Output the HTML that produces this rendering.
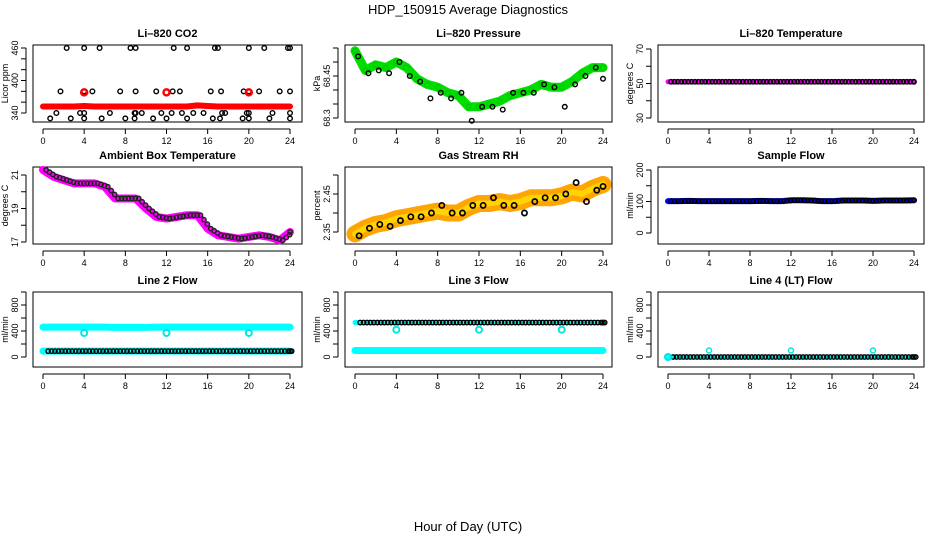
<!DOCTYPE html>
<html><head><meta charset="utf-8"><style>
html,body{margin:0;padding:0;background:#fff;}
svg{display:block;font-family:"Liberation Sans",sans-serif;}
</style></head><body>
<svg id="chart" width="936" height="540" viewBox="0 0 936 540">
<text x="468" y="14" text-anchor="middle" font-size="13">HDP_150915  Average Diagnostics</text>
<text x="468" y="531" text-anchor="middle" font-size="13">Hour of Day (UTC)</text>
</svg>
<script>
const hours = [0,1,2,3,4,5,6,7,8,9,10,11,12,13,14,15,16,17,18,19,20,21,22,23,24];
const xTicks = [0,4,8,12,16,20,24];
const co2Red = [352,352,352,352,353,352,352,352,352,352,352,352,352,352,352,354,353,352,352,352,352,352,352,352,352];
const co2Hi = [2.3,4,5.5,8.5,9,12.7,14,16.7,17,20,21.5,23.8,24];
const co2Mid = [1.7,4,4.8,7.5,9,11,12.6,13.3,16.3,17.3,19.5,20,21,23,24];
const co2Lo = [1.3,3.6,4,6.5,8.9,9,9.6,11.5,12.5,13.5,14.6,15.6,17.4,17.7,19.8,20,22.3,24];
const co2Bot = [0.7,2.7,4,5.7,8,8.9,10.7,12,14,16.5,17.2,19.4,20,22,24];
const presGreen = [68.54,68.47,68.49,68.48,68.50,68.48,68.44,68.42,68.41,68.39,68.38,68.34,68.34,68.35,68.36,68.38,68.39,68.40,68.42,68.41,68.41,68.43,68.46,68.48,68.48];
const presBlack = [68.52,68.46,68.47,68.46,68.50,68.45,68.43,68.37,68.39,68.37,68.39,68.29,68.34,68.34,68.33,68.39,68.39,68.39,68.42,68.41,68.34,68.42,68.45,68.48,68.44];
const liTemp = [51,51,51,51,51,51,51,51,51,51,51,51,51,51,51,51,51,51,51,51,51,51,51,51,51];
const ambTemp = [21.3,20.9,20.7,20.5,20.5,20.5,20.3,19.6,19.6,19.6,19.0,18.5,18.4,18.5,18.6,18.6,17.8,17.4,17.3,17.2,17.3,17.4,17.3,17.1,17.6];
const rhBand = [2.345,2.36,2.37,2.375,2.385,2.39,2.395,2.40,2.405,2.40,2.40,2.415,2.425,2.425,2.43,2.425,2.43,2.44,2.44,2.44,2.445,2.455,2.45,2.465,2.475];
const rhBlack = [2.34,2.36,2.37,2.365,2.38,2.39,2.39,2.40,2.42,2.40,2.40,2.42,2.42,2.44,2.42,2.42,2.40,2.43,2.44,2.44,2.45,2.48,2.43,2.46,2.47];
const sampleFlow = [101,101,102,101,101,101,101,101,101,102,101,101,104,104,103,101,101,103,103,103,102,103,103,103,104];
const l2High = [460,460,460,460,460,460,460,455,455,455,455,460,460,460,460,460,460,460,460,460,460,460,460,460,460];
const l2Low = [90,90,90,90,90,90,90,90,90,90,90,90,90,90,90,90,90,90,90,90,90,90,90,90,90];
const l3High = [530,530,530,530,530,530,530,530,530,530,530,530,530,530,530,530,530,530,530,530,530,530,530,530,530];
const l3Low = [100,100,100,100,100,100,100,100,100,100,100,100,100,100,100,100,100,100,100,100,100,100,100,100,100];
const l4Flow = [0,0,0,0,0,0,0,0,0,0,0,0,0,0,0,0,0,0,0,0,0,0,0,0,0];
const spikeHours = [4,12,20];
const l2Spike = [370,370,370];
const l3Spike = [420,420,420];
const l4Spike = [100,100,100];

const NS="http://www.w3.org/2000/svg";
const svg=document.getElementById('chart');
function mk(tag,attrs,parent){const e=document.createElementNS(NS,tag);for(const k in attrs)e.setAttribute(k,attrs[k]);(parent||svg).appendChild(e);return e;}

const cols=[{l:33,r:302,x0:43,x24:290},{l:345,r:612,x0:355,x24:603},{l:658,r:924,x0:668,x24:914}];
const rows=[{t:45,b:122},{t:167,b:244},{t:292,b:367}];

function panel(ci,ri,name,title,ylab,yTicks,yLabels,v1,p1,v2,p2){
  const c=cols[ci],r=rows[ri];
  const g=mk('g',{});
  
  
  const xs=h=>c.x0+(c.x24-c.x0)*h/24;
  const ys=v=>p1+(p2-p1)*(v-v1)/(v2-v1);
  const box=mk('rect',{x:c.l,y:r.t,width:c.r-c.l,height:r.b-r.t,fill:'none',stroke:'#000','stroke-width':1},g);
  
  
  const tt=mk('text',{x:(c.l+c.r)/2,y:r.t-8,'text-anchor':'middle','font-size':11,'font-weight':'bold'},g);
  tt.textContent=title;
  
  
  const xa=mk('g',{},g);
  
  
  mk('line',{x1:xs(0),x2:xs(24),y1:r.b+7,y2:r.b+7,stroke:'#000'},xa);
  xTicks.forEach(h=>{
    mk('line',{x1:xs(h),x2:xs(h),y1:r.b+7,y2:r.b+12,stroke:'#000'},xa);
    const t=mk('text',{x:xs(h),y:r.b+22,'text-anchor':'middle','font-size':9},xa);t.textContent=h;
  });
  const ya=mk('g',{},g);
  
  
  const yl=c.l-7;
  mk('line',{x1:yl,x2:yl,y1:ys(yTicks[0]),y2:ys(yTicks[yTicks.length-1]),stroke:'#000'},ya);
  yTicks.forEach(v=>mk('line',{x1:yl-5,x2:yl,y1:ys(v),y2:ys(v),stroke:'#000'},ya));
  yLabels.forEach(v=>{const y=ys(v);const t=mk('text',{x:0,y:0,'text-anchor':'middle','font-size':9,transform:`translate(${yl-8},${y}) rotate(-90)`},ya);t.textContent=String(v);});
  const lt=mk('text',{x:0,y:0,'text-anchor':'middle','font-size':9,transform:`translate(${c.l-25},${(r.t+r.b)/2}) rotate(-90)`},g);
  lt.textContent=ylab;
  
  
  return {g,xs,ys};
}
function band(p,arr,color,w,name){
  const pts=arr.map((v,i)=>p.xs(hours[i])+','+p.ys(v)).join(' ');
  const pl=mk('polyline',{points:pts,fill:'none',stroke:color,'stroke-width':w,'stroke-linejoin':'round','stroke-linecap':'round'},p.g);
  
  
}
function dots(p,xsArr,vals,color,name,rr,sw){
  const gg=mk('g',{},p.g);
  
  
  xsArr.forEach((h,i)=>mk('circle',{cx:p.xs(h),cy:p.ys(vals[i]),r:rr||2.3,fill:'none',stroke:color,'stroke-width':sw||1.4},gg));
}
function denseDots(p,arr,color,name,off){
  const xsA=[],vs=[];
  for(let i=0;i<arr.length-1;i++){for(let k=0;k<3;k++){const f=k/3;xsA.push(hours[i]+f+(off||0));vs.push(arr[i]+(arr[i+1]-arr[i])*f);}}
  xsA.push(24);vs.push(arr[arr.length-1]);
  dots(p,xsA,vs,color,name,2.2,1.4);
}

let p=panel(0,0,'co2-panel','Li\u2013820 CO2','Licor ppm',[340,360,380,400,420,440,460],[340,400,460],340,113,460,48);
band(p,co2Red,'#ff0000',6,'co2-red-series');
dots(p,co2Hi,co2Hi.map(()=>460),'#000','co2-black-460');
dots(p,co2Mid,co2Mid.map(()=>380),'#000','co2-black-380');
dots(p,co2Lo,co2Lo.map(()=>340),'#000','co2-black-340');
dots(p,co2Bot,co2Bot.map(()=>330),'#000','co2-black-330');
dots(p,spikeHours,[378,378,378],'#ff0000','co2-red-spikes',3,2.5);

p=panel(1,0,'pressure-panel','Li\u2013820 Pressure','kPa',[68.30,68.35,68.40,68.45,68.50,68.55],[68.30,68.45],68.30,118,68.45,76);
band(p,presGreen,'#00dd00',9,'pressure-green-series');
dots(p,hours,presGreen,'#00cc00','pressure-green-points');
dots(p,hours.map(h=>Math.min(24,h+0.3)),presBlack,'#000','pressure-black-points');

p=panel(2,0,'li-temp-panel','Li\u2013820 Temperature','degrees C',[30,40,50,60,70],[30,50,70],30,118,70,49);
band(p,liTemp,'#ff00ff',5,'li-temp-magenta-series');
denseDots(p,liTemp,'#000','li-temp-black-points',0.3);

p=panel(0,1,'ambient-temp-panel','Ambient Box Temperature','degrees C',[17,18,19,20,21],[17,19,21],17,242,21,175);
band(p,ambTemp,'#ff00ff',8,'ambient-magenta-series');
denseDots(p,ambTemp,'#222','ambient-black-points',0.3);

p=panel(1,1,'rh-panel','Gas Stream RH','percent',[2.35,2.40,2.45,2.50],[2.35,2.45],2.35,232,2.45,194);
band(p,rhBand,'#ffa500',17,'rh-orange-band');
band(p,rhBand,'#ffd400',6,'rh-yellow-core');
dots(p,hours.map(h=>Math.min(24,h+0.4)),rhBlack,'#000','rh-black-points',2.6,1.7);

p=panel(2,1,'sample-flow-panel','Sample Flow','ml/min',[0,50,100,150,200],[0,100,200],0,233,200,170);
band(p,sampleFlow,'#0000ff',6,'sample-flow-blue-series');
denseDots(p,sampleFlow,'#000','sample-flow-black-points',0.3);

p=panel(0,2,'line2-panel','Line 2 Flow','ml/min',[0,200,400,600,800,1000],[0,400,800],0,357,400,331);
band(p,l2High,'#00ffff',7,'line2-high-series');
band(p,l2Low,'#00ffff',7,'line2-low-series');
denseDots(p,l2Low,'#000','line2-black-points',0.5);
dots(p,spikeHours,l2Spike,'#00e5e5','line2-spikes',3,2);

p=panel(1,2,'line3-panel','Line 3 Flow','ml/min',[0,200,400,600,800,1000],[0,400,800],0,357,400,331);
band(p,l3Low,'#00ffff',7,'line3-low-series');
band(p,l3High,'#00ffff',5,'line3-high-series');
denseDots(p,l3High,'#000','line3-black-points',0.5);
dots(p,spikeHours,l3Spike,'#00e5e5','line3-spikes',3,2);

p=panel(2,2,'line4-panel','Line 4 (LT) Flow','ml/min',[0,200,400,600,800,1000],[0,400,800],0,357,400,331);
band(p,l4Flow,'#00ffff',4,'line4-cyan-series');
denseDots(p,l4Flow,'#000','line4-black-points',0.5);
dots(p,spikeHours,l4Spike,'#00e5e5','line4-spikes',2.5,1.5);
dots(p,[0],[0],'#00e5e5','line4-start-point',3,2);
</script>
</body></html>
